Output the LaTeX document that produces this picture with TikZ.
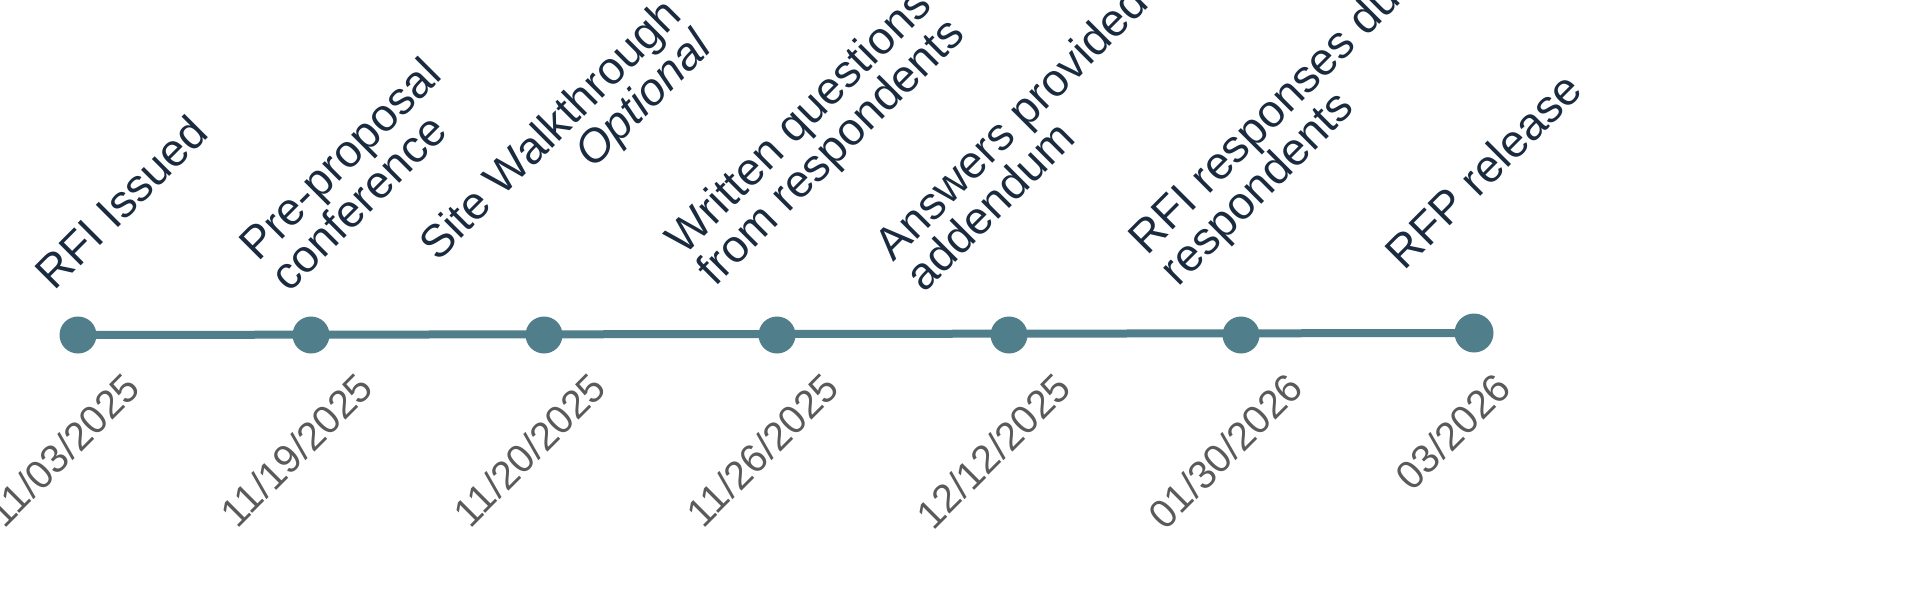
\documentclass[tikz,border=0pt]{standalone}
\usepackage{fontspec}
\setmainfont{Liberation Sans}
\definecolor{tlteal}{HTML}{507E8B}
\definecolor{tlnavy}{HTML}{1A2B40}
\definecolor{tlgray}{HTML}{5A5A5A}
\tikzset{
	event/.style={circle, fill=tlteal, inner sep=0pt, minimum size=0.37cm},
	title/.style={text=tlnavy, font=\fontsize{13}{12.5}\selectfont, rotate=45, anchor=south west, inner sep=0pt, align=left},
	date/.style={text=tlgray, font=\fontsize{11.3}{12}\selectfont, rotate=45, anchor=east, inner sep=0pt}
}
\begin{document}
\begin{tikzpicture}
	\useasboundingbox (0,0) rectangle (19.2,6);
	\node[event] (e1) at (0.78,2.65) {};
	\node[event] (e2) at (3.11,2.65) {};
	\node[event] (e3) at (5.44,2.65) {};
	\node[event] (e4) at (7.77,2.65) {};
	\node[event] (e5) at (10.09,2.65) {};
	\node[event] (e6) at (12.41,2.65) {};
	\node[event, minimum size=0.39cm] (e7) at (14.74,2.67) {};
	\draw[tlteal, line width=0.08cm] (e1.center) -- (e7.center);
	\node[title] (t1) at (0.55,3.07) {RFI Issued};
	\node[title] (t2) at (2.90,3.05) {Pre-proposal\\conference};
	\node[title, align=right] (t3) at (4.76,2.99) {Site Walkthrough\\\textit{Optional}};
	\node[title] (t4) at (7.22,3.05) {Written questions due\\from respondents};
	\node[title] (t5) at (9.25,3.05) {Answers provided in\\addendum};
	\node[title] (t6) at (11.85,3.05) {RFI responses due from\\respondents};
	\node[title] (t7) at (14.05,3.27) {RFP release};
	\node[date] (d1) at (1.33,2.20) {11/03/2025};
	\node[date] (d2) at (3.66,2.20) {11/19/2025};
	\node[date] (d3) at (5.99,2.20) {11/20/2025};
	\node[date] (d4) at (8.32,2.20) {11/26/2025};
	\node[date] (d5) at (10.64,2.20) {12/12/2025};
	\node[date] (d6) at (12.96,2.20) {01/30/2026};
	\node[date] (d7) at (15.04,2.20) {03/2026};
\end{tikzpicture}
\end{document}
